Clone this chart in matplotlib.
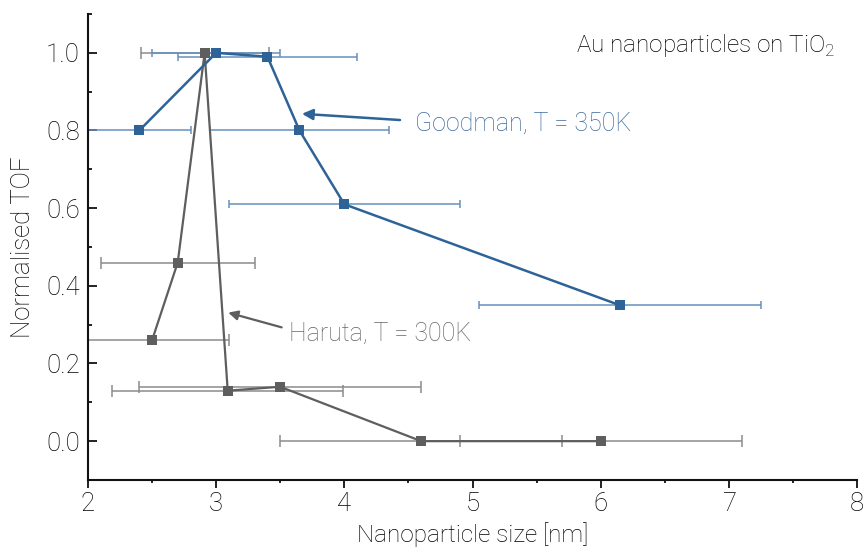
import matplotlib
matplotlib.use("Agg")
import matplotlib.pyplot as plt
from matplotlib.ticker import MultipleLocator

plt.rcParams['font.family'] = ['Roboto', 'DejaVu Sans']
plt.rcParams['font.weight'] = 'light'
plt.rcParams['axes.labelweight'] = 'light'
plt.rcParams['mathtext.fontset'] = 'custom'
plt.rcParams['mathtext.rm'] = 'Roboto:light'

# Goodman et al., T = 350 K
goodman_size = [2.4, 3.0, 3.4, 3.65, 4.0, 6.15]
goodman_tof = [0.80, 1.00, 0.99, 0.80, 0.61, 0.35]
goodman_err = [0.4, 0.5, 0.7, 0.7, 0.9, 1.1]

# Haruta et al., T = 300 K
haruta_size = [2.5, 2.7, 2.91, 3.09, 3.5, 4.6, 6.0]
haruta_tof = [0.26, 0.46, 1.00, 0.13, 0.14, 0.0, 0.0]
haruta_err = [0.6, 0.6, 0.5, 0.9, 1.1, 1.1, 1.1]

x_ticks = [2, 3, 4, 5, 6, 7, 8]
y_ticks = [0.0, 0.2, 0.4, 0.6, 0.8, 1.0]

blue = '#2e6398'
blue_err = '#6690bf'
blue_text = '#3a6aa0'
grey = '#5e5e5e'
grey_err = '#8c8c8c'
grey_text = '#666666'
ink = '#000000'

fig = plt.figure(figsize=(8.67, 5.49), dpi=100)
ax = fig.add_axes([0.1015, 0.1257, 0.887, 0.8488])

# error bars first, then connecting lines with square markers
ax.errorbar(haruta_size, haruta_tof, xerr=haruta_err, fmt='none',
            ecolor=grey_err, elinewidth=1.1, capsize=4.5, capthick=1.1, zorder=2)
ax.errorbar(goodman_size, goodman_tof, xerr=goodman_err, fmt='none',
            ecolor=blue_err, elinewidth=1.1, capsize=2.8, capthick=1.1, zorder=2)
ax.plot(haruta_size, haruta_tof, color=grey, lw=1.6, marker='s', ms=7.5,
        markeredgewidth=0, zorder=3)
ax.plot(goodman_size, goodman_tof, color=blue, lw=1.8, marker='s', ms=7.5,
        markeredgewidth=0, zorder=4)

ax.set_xlim(2, 8)
ax.set_ylim(-0.1, 1.1)
ax.set_xticks(x_ticks)
ax.set_xticklabels([str(v) for v in x_ticks])
ax.set_yticks(y_ticks)
ax.set_yticklabels([f'{v:.1f}' for v in y_ticks])
ax.xaxis.set_minor_locator(MultipleLocator(0.5))
ax.yaxis.set_minor_locator(MultipleLocator(0.1))

for side in ('top', 'right'):
    ax.spines[side].set_visible(False)
for side in ('left', 'bottom'):
    ax.spines[side].set_linewidth(1.5)
    ax.spines[side].set_color('#111111')

ax.tick_params(axis='x', which='major', direction='out', length=5.5, width=1.3,
               labelsize=18.5, pad=3, colors='#111111', labelcolor=ink)
ax.tick_params(axis='x', which='minor', direction='out', length=2.5, width=1.3,
               colors='#111111')
ax.tick_params(axis='y', which='major', direction='in', length=6.5, width=1.3,
               labelsize=18.5, pad=6, colors='#111111', labelcolor=ink)
ax.tick_params(axis='y', which='minor', direction='in', length=3, width=1.3,
               colors='#111111')

ax.set_xlabel('Nanoparticle size [nm]', fontsize=17.5, color=ink)
ax.xaxis.set_label_coords(0.5, -0.09)
ax.set_ylabel('Normalised TOF', fontsize=18.5, color=ink, labelpad=8)

ax.text(7.83, 1.02, r'Au nanoparticles on TiO$_2$', fontsize=17.5, color=ink,
        ha='right', va='center')

ax.annotate('', xy=(3.669, 0.843), xytext=(4.434, 0.827),
            arrowprops=dict(arrowstyle='-|>', color=blue, lw=1.8,
                            mutation_scale=16, shrinkA=0, shrinkB=0))
ax.text(4.55, 0.817, 'Goodman, T = 350K', fontsize=18, color=blue_text,
        ha='left', va='center')

ax.annotate('', xy=(3.094, 0.331), xytext=(3.511, 0.293),
            arrowprops=dict(arrowstyle='-|>', color=grey, lw=1.6,
                            mutation_scale=14, shrinkA=0, shrinkB=0))
ax.text(3.57, 0.276, 'Haruta, T = 300K', fontsize=18, color=grey_text,
        ha='left', va='center')

fig.savefig('out.png', dpi=100)
